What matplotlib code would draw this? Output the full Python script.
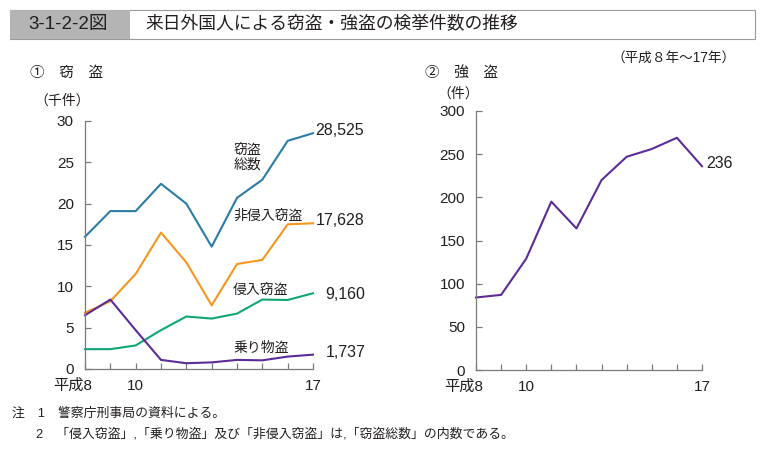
import matplotlib
matplotlib.use("Agg")
import matplotlib.pyplot as plt
from matplotlib.patches import Rectangle
from matplotlib.transforms import ScaledTranslation

plt.rcParams['font.family'] = ['Liberation Sans', 'Noto Sans CJK JP', 'DejaVu Sans']

# data (平成8年～17年)
years = [8, 9, 10, 11, 12, 13, 14, 15, 16, 17]
total = [16.0, 19.1, 19.1, 22.4, 20.0, 14.8, 20.7, 22.9, 27.6, 28.525]
non_intrusion = [6.8, 8.2, 11.5, 16.5, 12.9, 7.7, 12.7, 13.2, 17.5, 17.628]
intrusion = [2.4, 2.4, 2.85, 4.7, 6.35, 6.1, 6.7, 8.4, 8.35, 9.16]
vehicle = [6.5, 8.4, 4.7, 1.1, 0.7, 0.8, 1.1, 1.05, 1.5, 1.737]
robbery = [84, 87, 129, 195, 164, 220, 247, 256, 269, 236]

xtick_labels = {8: '平成8', 10: '10', 17: '17'}

c_total = '#2a7ca6'
c_non = '#f5961f'
c_int = '#10a577'
c_veh = '#5b2c98'
c_axis = '#7a7a7a'
c_text = '#231f20'

fig = plt.figure(figsize=(7.71, 4.51), dpi=100)
W, H = 771, 451

def fx(px):
    return px / W

def fy(py):
    return 1 - py / H

# title bar
fig.patches.append(Rectangle((fx(10), fy(39)), fx(755) - fx(10), fy(10) - fy(39),
                             transform=fig.transFigure, facecolor='white',
                             edgecolor='#9a9a9a', linewidth=0.8))
fig.patches.append(Rectangle((fx(10), fy(39)), fx(130) - fx(10), fy(10) - fy(39),
                             transform=fig.transFigure, facecolor='#b4b4b4',
                             edgecolor='none'))
fig.text(fx(68), fy(24.5), '3-1-2-2図', ha='center', va='center', fontsize=13.5, color=c_text)
fig.text(fx(145), fy(24.5), '来日外国人による窃盗・強盗の検挙件数の推移', ha='left', va='center',
         fontsize=12.8, color=c_text)
fig.text(fx(736), fy(58), '（平成８年～17年）', ha='right', va='center', fontsize=9.8, color=c_text)


def style_axes(ax, ymax, ystep):
    ax.set_xlim(8, 17)
    ax.set_ylim(0, ymax)
    for s in ['top', 'right']:
        ax.spines[s].set_visible(False)
    for s in ['left', 'bottom']:
        ax.spines[s].set_color(c_axis)
        ax.spines[s].set_linewidth(0.9)
    ax.spines['bottom'].set_zorder(0)
    ax.set_xticks(years)
    ax.set_xticklabels([xtick_labels.get(y, '') for y in years])
    ax.set_yticks(range(0, ymax + 1, ystep))
    ax.tick_params(axis='both', direction='in', length=4, width=0.9, color=c_axis,
                   labelsize=11, labelcolor=c_text)
    ax.tick_params(axis='y', pad=8)
    ax.tick_params(axis='x', pad=7)
    first = ax.get_xticklabels()[0]
    first.set_ha('right')
    first.set_transform(first.get_transform() + ScaledTranslation(0.07, 0, fig.dpi_scale_trans))
    ax.patch.set_alpha(0)


# ① 窃盗
ax1 = fig.add_axes([fx(85), fy(369), fx(313) - fx(85), fy(121) - fy(369)])
style_axes(ax1, 30, 5)
ax1.plot(years, total, color=c_total, lw=1.5, clip_on=False)
ax1.plot(years, non_intrusion, color=c_non, lw=1.5, clip_on=False)
ax1.plot(years, intrusion, color=c_int, lw=1.5, clip_on=False)
ax1.plot(years, vehicle, color=c_veh, lw=1.5, clip_on=False)

fig.text(fx(30), fy(73), '①　窃　盗', ha='left', va='center', fontsize=10.5, color=c_text)
fig.text(fx(34), fy(101), '（千件）', ha='left', va='center', fontsize=10, color=c_text)

lbl = dict(fontsize=10, color=c_text, va='center', ha='left')
ax1.text(13.85, 25.6, '窃盗\n総数', linespacing=1.0, **lbl)
ax1.text(13.85, 18.5, '非侵入窃盗', **lbl)
ax1.text(13.85, 9.6, '侵入窃盗', **lbl)
ax1.text(13.85, 2.5, '乗り物盗', **lbl)
num = dict(fontsize=11.5, color=c_text, va='center', ha='left')
ax1.text(17.1, total[-1] + 0.3, f'{int(round(total[-1] * 1000)):,}', **num)
ax1.text(17.1, non_intrusion[-1] + 0.3, f'{int(round(non_intrusion[-1] * 1000)):,}', **num)
ax1.text(17.5, intrusion[-1] - 0.2, f'{int(round(intrusion[-1] * 1000)):,}', **num)
ax1.text(17.5, vehicle[-1] + 0.2, f'{int(round(vehicle[-1] * 1000)):,}', **num)

# ② 強盗
ax2 = fig.add_axes([fx(476), fy(370), fx(702) - fx(476), fy(111) - fy(370)])
style_axes(ax2, 300, 50)
ax2.plot(years, robbery, color=c_veh, lw=1.5, clip_on=False)
ax2.text(17.15, robbery[-1] + 3, f'{robbery[-1]}', **num)

fig.text(fx(425), fy(73), '②　強　盗', ha='left', va='center', fontsize=10.5, color=c_text)
fig.text(fx(437), fy(94), '（件）', ha='left', va='center', fontsize=10, color=c_text)

# notes
note = dict(fontsize=9.3, color=c_text, va='center', ha='left')
fig.text(fx(12), fy(414), '注　1　警察庁刑事局の資料による。', **note)
fig.text(fx(36), fy(434), '2　「侵入窃盗」,「乗り物盗」及び「非侵入窃盗」は,「窃盗総数」の内数である。', **note)

fig.savefig('out.png', dpi=100)
